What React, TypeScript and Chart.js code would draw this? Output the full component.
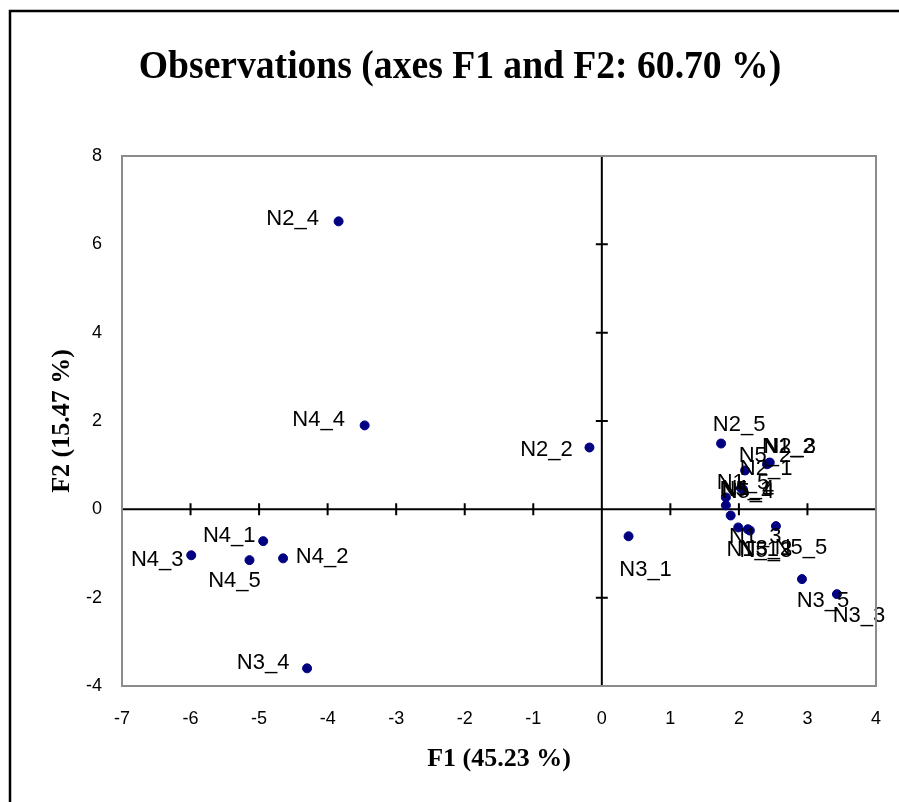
import React, { useEffect, useRef } from "react";
import { Chart, registerables } from "chart.js";

Chart.register(...registerables);

const names = [
  "N1_1", "N1_2", "N1_3", "N1_4", "N1_5",
  "N2_1", "N2_2", "N2_3", "N2_4", "N2_5",
  "N3_1", "N3_2", "N3_3", "N3_4", "N3_5",
  "N4_1", "N4_2", "N4_3", "N4_4", "N4_5",
  "N5_1", "N5_2", "N5_3", "N5_4", "N5_5",
];
const f1 = [
  1.88, 2.43, 1.99, 1.81, 2.03,
  2.09, -0.18, 2.45, -3.84, 1.74,
  0.39, 2.13, 3.43, -4.30, 2.92,
  -4.94, -4.65, -5.99, -3.46, -5.14,
  1.81, 2.41, 2.16, 2.06, 2.54,
];
const f2 = [
  -0.14, 1.04, -0.41, 0.09, 0.48,
  0.88, 1.40, 1.06, 6.52, 1.49,
  -0.61, -0.45, -1.92, -3.60, -1.58,
  -0.72, -1.11, -1.04, 1.90, -1.15,
  0.27, 1.02, -0.48, 0.45, -0.38,
];
const xTicks = [-7, -6, -5, -4, -3, -2, -1, 0, 1, 2, 3, 4];
const yTicks = [-4, -2, 0, 2, 4, 6, 8];

const titleText = "Observations (axes F1 and F2: 60.70 %)";
const xTitle = "F1 (45.23 %)";
const yTitle = "F2 (15.47 %)";

// label placement (pixel offsets of label centre from its point)
const labelOffsets: Record<string, [number, number]> = {
  N1_1: [22, 34], N1_2: [20, -16], N1_3: [17, 9], N1_4: [22, -16], N1_5: [2, -5],
  N2_1: [21, -2], N2_2: [-43, 2], N2_3: [20, -16], N2_4: [-46, -2], N2_5: [18, -19],
  N3_1: [17, 34], N3_2: [18, 20], N3_3: [22, 22], N3_4: [-44, -5], N3_5: [21, 22],
  N4_1: [-34, -5], N4_2: [39, -1], N4_3: [-34, 5], N4_4: [-46, -5], N4_5: [-15, 21],
  N5_1: [20, -7], N5_2: [-2, -8], N5_3: [16, 20], N5_4: [5, 2], N5_5: [25, 22],
};

const SANS = "'Liberation Sans', Arial, sans-serif";
const SERIF = "'Liberation Serif', 'Times New Roman', serif";

function drawScaledText(ctx: any, text: string, x: number, y: number, sx: number) {
  ctx.save();
  ctx.translate(x, y);
  ctx.scale(sx, 1);
  ctx.fillText(text, 0, 0);
  ctx.restore();
}

const decorPlugin = {
  id: "decor",
  beforeDatasetsDraw(chart: any) {
    const { ctx, chartArea, scales } = chart;
    const xs = scales.x;
    const ys = scales.y;
    const x0 = xs.getPixelForValue(0);
    const y0 = ys.getPixelForValue(0);
    ctx.save();
    ctx.strokeStyle = "#000";
    ctx.lineWidth = 2;
    ctx.beginPath();
    ctx.moveTo(chartArea.left, y0);
    ctx.lineTo(chartArea.right, y0);
    ctx.moveTo(x0, chartArea.top);
    ctx.lineTo(x0, chartArea.bottom);
    xTicks.forEach((t) => {
      const px = xs.getPixelForValue(t);
      ctx.moveTo(px, y0 - 6);
      ctx.lineTo(px, y0 + 6);
    });
    yTicks.forEach((t) => {
      const py = ys.getPixelForValue(t);
      ctx.moveTo(x0 - 6, py);
      ctx.lineTo(x0 + 6, py);
    });
    ctx.stroke();
    ctx.restore();
  },
  afterDraw(chart: any) {
    const { ctx, chartArea } = chart;
    ctx.save();
    ctx.strokeStyle = "#8c8c8c";
    ctx.lineWidth = 2;
    ctx.strokeRect(chartArea.left, chartArea.top, chartArea.right - chartArea.left, chartArea.bottom - chartArea.top);
    ctx.strokeStyle = "#000";
    ctx.lineWidth = 2.5;
    ctx.strokeRect(10, 11, 1000, 1000);
    ctx.fillStyle = "#000";
    ctx.textAlign = "center";
    ctx.textBaseline = "middle";
    ctx.font = `bold 40px ${SERIF}`;
    drawScaledText(ctx, titleText, 460, 68, 0.94);
    ctx.font = `bold 26px ${SERIF}`;
    drawScaledText(ctx, xTitle, 499, 759, 1.0);
    ctx.translate(62, 421);
    ctx.rotate(-Math.PI / 2);
    ctx.fillText(yTitle, 0, 0);
    ctx.restore();
  },
};

const labelPlugin = {
  id: "pointLabels",
  afterDatasetsDraw(chart: any) {
    const { ctx } = chart;
    const meta = chart.getDatasetMeta(0);
    ctx.save();
    ctx.fillStyle = "#000";
    ctx.font = `22px ${SANS}`;
    ctx.textAlign = "center";
    ctx.textBaseline = "middle";
    meta.data.forEach((el: any, i: number) => {
      const off = labelOffsets[names[i]] || [0, -15];
      ctx.fillText(names[i], el.x + off[0], el.y + off[1]);
    });
    ctx.restore();
  },
};

export default function App() {
  const ref = useRef<HTMLCanvasElement | null>(null);
  useEffect(() => {
    if (!ref.current) return;
    const chart = new Chart(ref.current, {
      type: "scatter",
      data: {
        datasets: [
          {
            data: names.map((_, i) => ({ x: f1[i], y: f2[i] })),
            backgroundColor: "#000080",
            borderColor: "#000080",
            pointRadius: 4.5,
            pointHoverRadius: 4.5,
          },
        ],
      },
      options: {
        responsive: false,
        animation: false,
        layout: { padding: { top: 156, right: 23, left: 0, bottom: 0 } },
        plugins: { legend: { display: false }, tooltip: { enabled: false }, title: { display: false } },
        scales: {
          x: {
            type: "linear",
            min: -7,
            max: 4,
            afterBuildTicks: (s: any) => { s.ticks = xTicks.map((v) => ({ value: v })); },
            afterFit: (s: any) => { s.height = 116; s.paddingLeft = 0; s.paddingRight = 0; },
            grid: { display: false, drawTicks: false },
            border: { display: false },
            ticks: { color: "#000", font: { family: SANS, size: 18 }, padding: 22 },
          },
          y: {
            type: "linear",
            min: -4,
            max: 8,
            afterBuildTicks: (s: any) => { s.ticks = yTicks.map((v) => ({ value: v })); },
            afterFit: (s: any) => { s.width = 122; s.paddingTop = 0; s.paddingBottom = 0; },
            grid: { display: false, drawTicks: false },
            border: { display: false },
            ticks: { color: "#000", font: { family: SANS, size: 18 }, padding: 20 },
          },
        },
      },
      plugins: [decorPlugin, labelPlugin],
    });
    return () => chart.destroy();
  }, []);
  return (
    <div style={{ position: "absolute", left: 0, top: 0, width: 899, height: 802, background: "#fff" }}>
      <canvas ref={ref} width={899} height={802} style={{ display: "block" }} />
    </div>
  );
}
